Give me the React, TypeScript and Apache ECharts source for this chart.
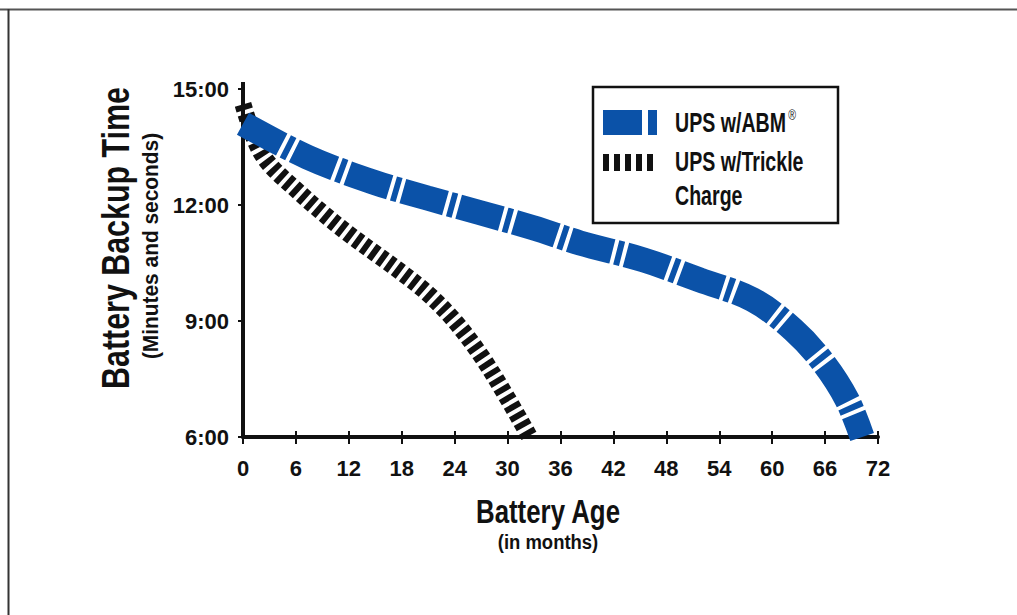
import React, { useEffect, useRef } from "react";
import * as echarts from "echarts";

// Battery age (months) and backup time (minutes)
const abmAge = [0, 7.3, 14.7, 20.9, 26.9, 32.9, 38.2, 45.4, 51.8, 57.8, 62.4, 65.8, 68.5, 70.2];
const abmTime = [14.1, 13.24, 12.6, 12.18, 11.8, 11.41, 11.02, 10.58, 10.06, 9.55, 8.77, 7.92, 6.96, 6.0];
const trickleAge = [0, 1.5, 3, 6, 9, 12, 15, 18, 21, 24, 27, 30, 32.5];
const trickleTime = [14.6, 13.6, 13.05, 12.4, 11.8, 11.25, 10.75, 10.25, 9.7, 9.0, 8.1, 7.0, 6.0];

const seriesNames = ["UPS w/ABM", "UPS w/Trickle Charge"];
const legendLines = ["UPS w/Trickle", "Charge"];
const xTitle = "Battery Age";
const xSubtitle = "(in months)";
const yTitle = "Battery Backup Time";
const ySubtitle = "(Minutes and seconds)";

const FONT = "'Liberation Sans Narrow', 'Liberation Sans', sans-serif";
const BLUE = "#0b52a8";
const INK = "#111111";

export default function App() {
  const ref = useRef<HTMLDivElement>(null);

  useEffect(() => {
    if (!ref.current) return;
    const chart = echarts.init(ref.current, null, { renderer: "svg" });

    const abmData = abmAge.map((a, i) => [a, abmTime[i]]);
    const trickleData = trickleAge.map((a, i) => [a, trickleTime[i]]);

    const axisLabelStyle = {
      fontFamily: FONT,
      fontWeight: "bold" as const,
      fontSize: 22,
      color: INK,
    };

    const legendBars = [0, 1, 2, 3, 4].map((i) => ({
      type: "rect",
      shape: { x: 603 + i * 11, y: 154, width: 6, height: 17 },
      style: { fill: INK },
      z: 20,
    }));

    const legendText = (text: string, y: number) => ({
      type: "text",
      x: 675,
      y,
      z: 20,
      scaleX: 0.7,
      style: { text, fontFamily: FONT, fontWeight: "bold", fontSize: 28, fill: INK, verticalAlign: "middle" },
    });

    chart.setOption({
      animation: false,
      backgroundColor: "#ffffff",
      grid: { left: 243, right: 139, top: 89, bottom: 178, containLabel: false },
      xAxis: [
        {
          type: "value",
          min: 0,
          max: 72,
          interval: 6,
          axisLine: { show: true, lineStyle: { color: INK, width: 4 } },
          axisTick: { show: true, length: 7, lineStyle: { color: INK, width: 2 } },
          axisLabel: { ...axisLabelStyle, margin: 20 },
          splitLine: { show: false },
        },
        {
          type: "value",
          min: 0,
          max: 72,
          interval: 6,
          position: "bottom",
          offset: 0,
          axisLine: { show: false },
          axisTick: { show: true, inside: true, length: 6, lineStyle: { color: INK, width: 2 } },
          axisLabel: { show: false },
          splitLine: { show: false },
        },
      ],
      yAxis: {
        type: "value",
        min: 6,
        max: 15,
        interval: 3,
        axisLine: { show: true, lineStyle: { color: INK, width: 4 } },
        axisTick: { show: true, length: 5, lineStyle: { color: INK, width: 2 } },
        axisLabel: {
          ...axisLabelStyle,
          margin: 14,
          formatter: (v: number) => `${v}:00`,
        },
        splitLine: { show: false },
      },
      series: [
        {
          name: seriesNames[1],
          type: "line",
          xAxisIndex: 0,
          data: trickleData,
          smooth: 0.35,
          showSymbol: false,
          symbol: "none",
          clip: true,
          z: 3,
          lineStyle: { color: INK, width: 17, type: [6, 4], cap: "butt" },
        },
        {
          name: seriesNames[0],
          type: "line",
          xAxisIndex: 0,
          data: abmData,
          smooth: 0.35,
          showSymbol: false,
          symbol: "none",
          clip: true,
          z: 4,
          lineStyle: { color: BLUE, width: 25, type: [44, 4, 6, 4], cap: "butt" },
        },
      ],
      graphic: [
        { type: "line", shape: { x1: 0, y1: 9.5, x2: 1017, y2: 9.5 }, style: { stroke: "#555", lineWidth: 2 } },
        { type: "line", shape: { x1: 8.5, y1: 9, x2: 8.5, y2: 615 }, style: { stroke: "#333", lineWidth: 2 } },
        { type: "line", shape: { x1: 243, y1: 82, x2: 243, y2: 90 }, style: { stroke: INK, lineWidth: 4 } },
        {
          type: "rect",
          shape: { x: 593, y: 87, width: 245, height: 136 },
          style: { fill: "#fff", stroke: INK, lineWidth: 2.5 },
          z: 10,
        },
        { type: "rect", shape: { x: 603, y: 110, width: 39, height: 25 }, style: { fill: BLUE }, z: 20 },
        { type: "rect", shape: { x: 648, y: 110, width: 9, height: 25 }, style: { fill: BLUE }, z: 20 },
        ...legendBars,
        {
          type: "text",
          x: 675,
          y: 122,
          z: 20,
          scaleX: 0.7,
          style: {
            text: `{a|${seriesNames[0]}}{s|®}`,
            verticalAlign: "middle",
            rich: {
              a: { fontFamily: FONT, fontWeight: "bold", fontSize: 28, fill: INK },
              s: { fontFamily: FONT, fontSize: 15, fill: INK, verticalAlign: "top", padding: [0, 0, 14, 3] },
            },
          },
        },
        legendText(legendLines[0], 161),
        legendText(legendLines[1], 195),
        {
          type: "text",
          x: 116,
          y: 238,
          rotation: Math.PI / 2,
          scaleX: 0.8,
          style: { text: yTitle, fontFamily: FONT, fontWeight: "bold", fontSize: 38, fill: INK, align: "center", verticalAlign: "middle" },
        },
        {
          type: "text",
          x: 151,
          y: 246,
          rotation: Math.PI / 2,
          scaleX: 0.95,
          style: { text: ySubtitle, fontFamily: FONT, fontWeight: "bold", fontSize: 22, fill: INK, align: "center", verticalAlign: "middle" },
        },
        {
          type: "text",
          x: 548,
          y: 511,
          scaleX: 0.76,
          style: { text: xTitle, fontFamily: FONT, fontWeight: "bold", fontSize: 34, fill: INK, align: "center", verticalAlign: "middle" },
        },
        {
          type: "text",
          x: 548,
          y: 542,
          scaleX: 0.88,
          style: { text: xSubtitle, fontFamily: FONT, fontWeight: "bold", fontSize: 21, fill: INK, align: "center", verticalAlign: "middle" },
        },
      ],
    });

    return () => chart.dispose();
  }, []);

  return (
    <div
      ref={ref}
      style={{ position: "fixed", left: 0, top: 0, width: 1017, height: 615, background: "#fff" }}
    />
  );
}
